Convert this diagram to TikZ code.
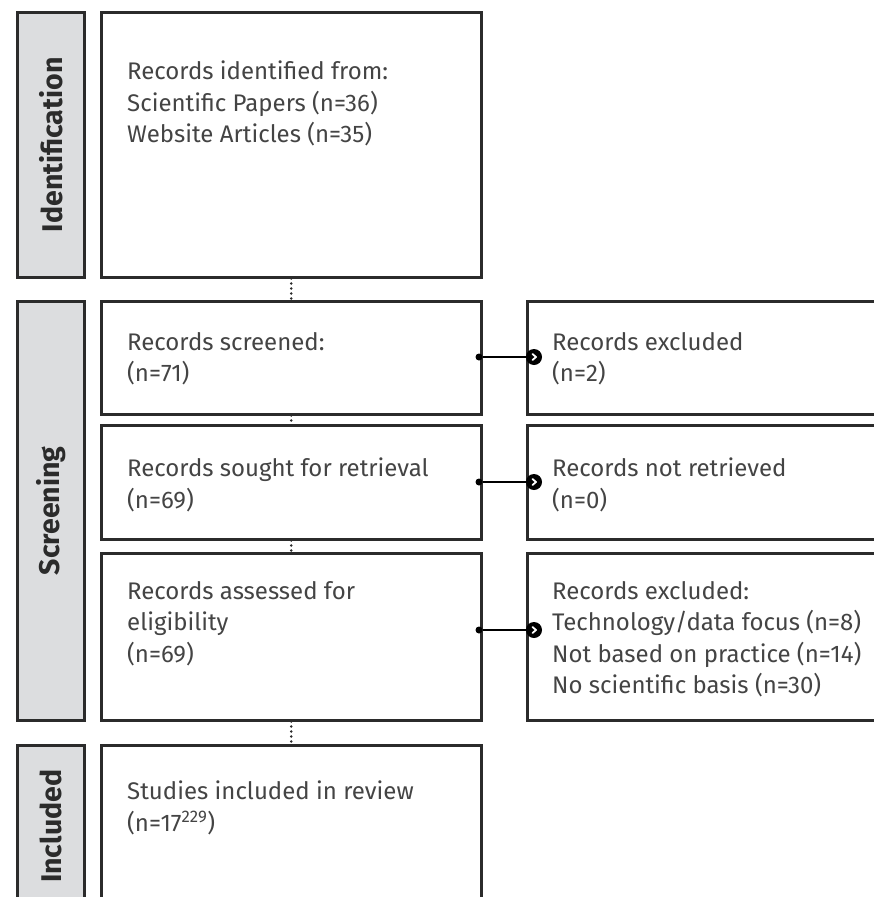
\documentclass[tikz,border=0pt]{standalone}
\usepackage{fontspec}
\setmainfont{Fira Sans}
\usetikzlibrary{positioning}

\definecolor{linegray}{HTML}{2B2B2B}
\definecolor{sidegray}{HTML}{DCDDDF}
\definecolor{txtgray}{HTML}{444444}

\begin{document}
\begin{tikzpicture}[x=1pt, y=-1pt,
        stage/.style={draw=linegray, line width=2.5pt, fill=sidegray, minimum width=67pt, inner sep=0pt, anchor=north west},
        box/.style={draw=linegray, line width=2.5pt, fill=white, minimum width=380pt, inner sep=0pt, anchor=north west},
        stagetxt/.style={rotate=90, inner sep=0pt, font=\fontsize{28.5}{32}\selectfont\bfseries, text=linegray},
        txt/.style={anchor=north west, align=left, inner sep=0pt, font=\fontsize{24}{31.5}\selectfont, text=txtgray},
        flow/.style={draw=linegray, dash pattern=on 0pt off 5pt, line cap=round, line width=2.6pt},
        link/.style={draw=black, line width=2pt},
        pin/.style={circle, fill=black, minimum size=7pt, inner sep=0pt},
        knob/.style={circle, fill=black, minimum size=16pt, inner sep=0pt,
            path picture={\draw[white, line width=1.8pt, line cap=round, line join=round]
                ([shift={(-1.5pt,3pt)}]path picture bounding box.center) --
                ([shift={(2pt,0pt)}]path picture bounding box.center) --
                ([shift={(-1.5pt,-3pt)}]path picture bounding box.center);}}
    ]
        \useasboundingbox (0,0) rectangle (874,897);
        \clip (0,0) rectangle (874,897);

        % Stages
        \node[stage, minimum height=265pt] (sid) at (16,11) {};
        \node[stage, minimum height=419pt] (sscr) at (16,300) {};
        \node[stage, minimum height=162pt] (sinc) at (16,744) {};
        \node[stagetxt] (tid) at (sid.center) {Identification};
        \node[stagetxt] (tscr) at (sscr.center) {Screening};
        \node[stagetxt] (tinc) at (sinc.center) {Included};

        % Main column
        \node[box, minimum height=265pt] (ident) at (100,11) {};
        \node[box, minimum height=113pt] (scr) at (100,300) {};
        \node[box, minimum height=114pt] (sought) at (100,424) {};
        \node[box, minimum height=167pt] (assess) at (100,552) {};
        \node[box, minimum height=162pt] (incl) at (100,744) {};

        % Exclusions
        \node[box, minimum height=113pt] (excl) at (526,300) {};
        \node[box, minimum height=114pt] (notret) at (526,424) {};
        \node[box, minimum height=167pt] (inel) at (526,552) {};

        % Texts
        \node[txt] (lident) at (127,61) {Records identified from:\\Scientific Papers (n=36)\\Website Articles (n=35)};
        \node[txt] (lscr) at (127,332) {Records screened:\\(n=71)};
        \node[txt] (lsought) at (127,458) {Records sought for retrieval\\(n=69)};
        \node[txt] (lassess) at (127,581) {Records assessed for\\eligibility\\(n=69)};
        \node[txt] (lincl) at (127,781) {Studies included in review\\(n=17\textsuperscript{229})};
        \node[txt] (lexcl) at (552,332) {Records excluded\\(n=2)};
        \node[txt] (lnotret) at (552,458) {Records not retrieved\\(n=0)};
        \node[txt] (linel) at (552,581) {Records excluded:\\Technology/data focus (n=8)\\Not based on practice (n=14)\\No scientific basis (n=30)};

        % Flow
        \draw[flow] (ident.south) -- (scr.north);
        \draw[flow] (scr.south) -- (sought.north);
        \draw[flow] (sought.south) -- (assess.north);
        \draw[flow] (assess.south) -- (incl.north);

        % Side links
        \node[pin] (p1) at (479,357) {};
        \node[pin] (p2) at (479,482) {};
        \node[pin] (p3) at (479,630) {};
        \draw[link] (p1) -- (534,357) node[knob] (k1) {};
        \draw[link] (p2) -- (534,482) node[knob] (k2) {};
        \draw[link] (p3) -- (534,630) node[knob] (k3) {};
    \end{tikzpicture}
\end{document}
